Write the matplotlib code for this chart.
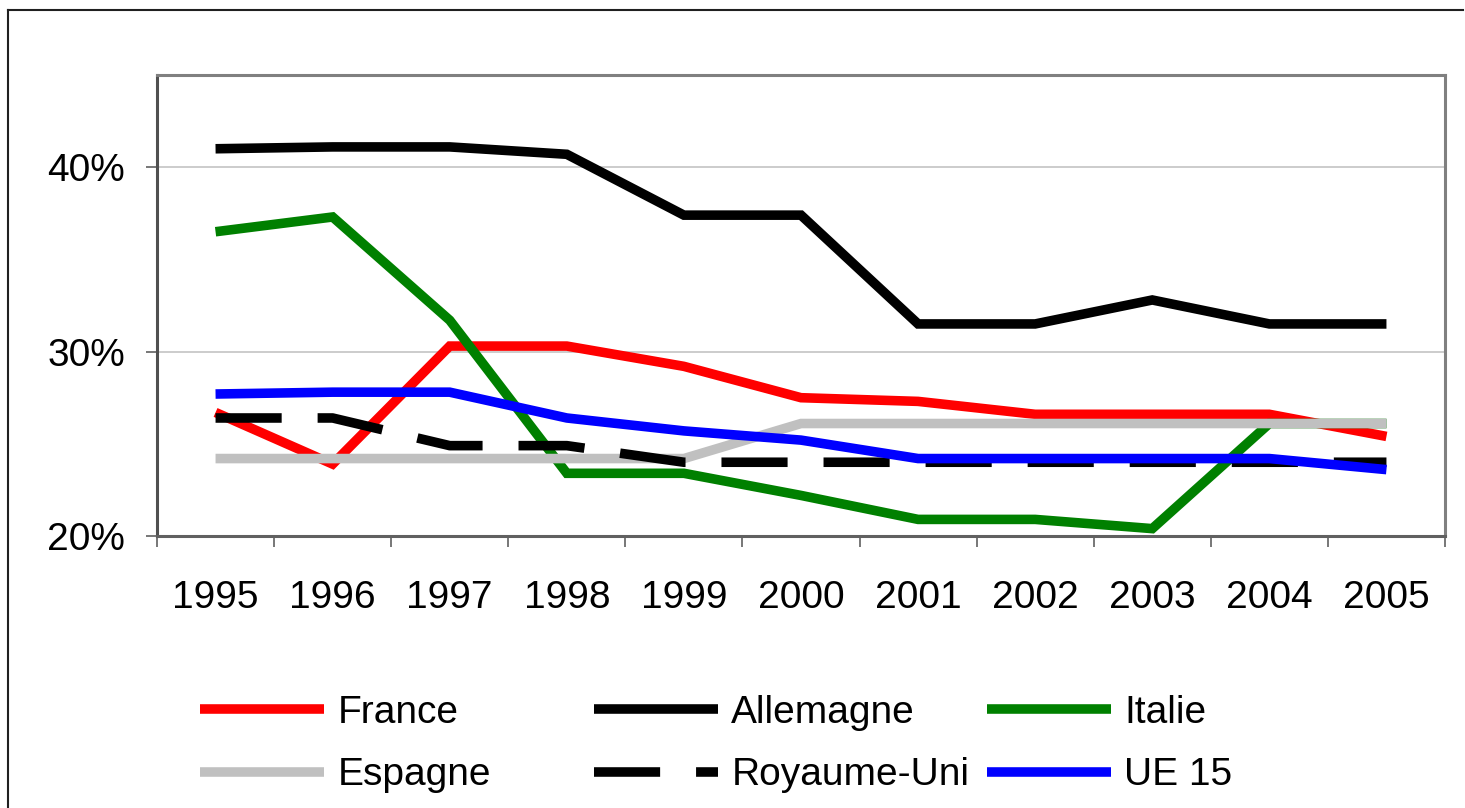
import matplotlib
matplotlib.use("Agg")
import matplotlib.pyplot as plt
from matplotlib.lines import Line2D

plt.rcParams["font.family"] = ["Liberation Sans", "DejaVu Sans"]

# Values (percent)
years = ["1995", "1996", "1997", "1998", "1999", "2000",
         "2001", "2002", "2003", "2004", "2005"]
france = [26.7, 23.9, 30.3, 30.3, 29.2, 27.5, 27.3, 26.6, 26.6, 26.6, 25.4]
allemagne = [41.0, 41.1, 41.1, 40.7, 37.4, 37.4, 31.5, 31.5, 32.8, 31.5, 31.5]
italie = [36.5, 37.3, 31.7, 23.4, 23.4, 22.2, 20.9, 20.9, 20.4, 26.1, 26.1]
espagne = [24.2, 24.2, 24.2, 24.2, 24.2, 26.1, 26.1, 26.1, 26.1, 26.1, 26.1]
royaume_uni = [26.4, 26.4, 24.9, 24.9, 24.0, 24.0, 24.0, 24.0, 24.0, 24.0, 24.0]
ue15 = [27.7, 27.8, 27.8, 26.4, 25.7, 25.2, 24.2, 24.2, 24.2, 24.2, 23.6]
y_ticks = [20, 30, 40]
y_tick_labels = ["20%", "30%", "40%"]

LW = 6.9
series = [
    ("France", france, "#ff0000", "-"),
    ("Allemagne", allemagne, "#000000", "-"),
    ("Italie", italie, "#008000", "-"),
    ("Espagne", espagne, "#c0c0c0", "-"),
    ("Royaume-Uni", royaume_uni, "#000000", (0, (6.9, 3.75))),
    ("UE 15", ue15, "#0000ff", "-"),
]

fig = plt.figure(figsize=(14.65, 8.08), dpi=100)
ax = fig.add_axes([157 / 1465, 1 - 536 / 808, (1445 - 157) / 1465, (536 - 75) / 808])

x = list(range(len(years)))
handles = []
for label, vals, color, ls in series:
    line, = ax.plot(x, vals, color=color, lw=LW, ls=ls,
                    solid_joinstyle="miter", solid_capstyle="butt",
                    dash_capstyle="butt", label=label)
    handles.append(line)

ax.set_xlim(-0.5, len(years) - 0.5)
ax.set_ylim(20, 45)

# category boundaries carry the tick marks, centres carry the labels
ax.set_xticks([i - 0.5 for i in range(len(years) + 1)])
ax.set_xticklabels([])
ax.set_xticks(x, minor=True)
ax.set_xticklabels(years, minor=True, fontsize=28)
ax.tick_params(axis="x", which="major", direction="out", length=8, width=1.2, color="#606060")
ax.tick_params(axis="x", which="minor", length=0, pad=32)

ax.set_yticks(y_ticks)
ax.set_yticklabels(y_tick_labels, fontsize=28)
ax.tick_params(axis="y", direction="out", length=8, width=1.2, color="#606060", pad=15)

ax.grid(axis="y", color="#c8c8c8", lw=1.3)
ax.set_axisbelow(True)
for side, sp in ax.spines.items():
    sp.set_color("#808080")
    sp.set_linewidth(2.2)
ax.spines["left"].set_color("#505050")
ax.spines["bottom"].set_color("#606060")

# legend: Excel style, three equal-width columns of two rows
col_x = [200 / 1465, 594 / 1465, 987 / 1465]
for c in range(3):
    hs = [handles[c], handles[c + 3]]
    fig.legend(hs, [h.get_label() for h in hs], loc="upper left",
               bbox_to_anchor=(col_x[c], 1 - 695 / 808),
               frameon=False, fontsize=28, handlelength=3.2,
               handletextpad=0.33, labelspacing=0.68,
               borderpad=0, borderaxespad=0)

# outer chart border (top and left edges visible)
fig.add_artist(Line2D([8 / 1465, 8 / 1465], [0, 1 - 10 / 808], transform=fig.transFigure,
                      color="#202020", lw=1.5))
fig.add_artist(Line2D([8 / 1465, 1463 / 1465], [1 - 10 / 808, 1 - 10 / 808],
                      transform=fig.transFigure, color="#202020", lw=1.5))

fig.savefig("out.png", dpi=100)
